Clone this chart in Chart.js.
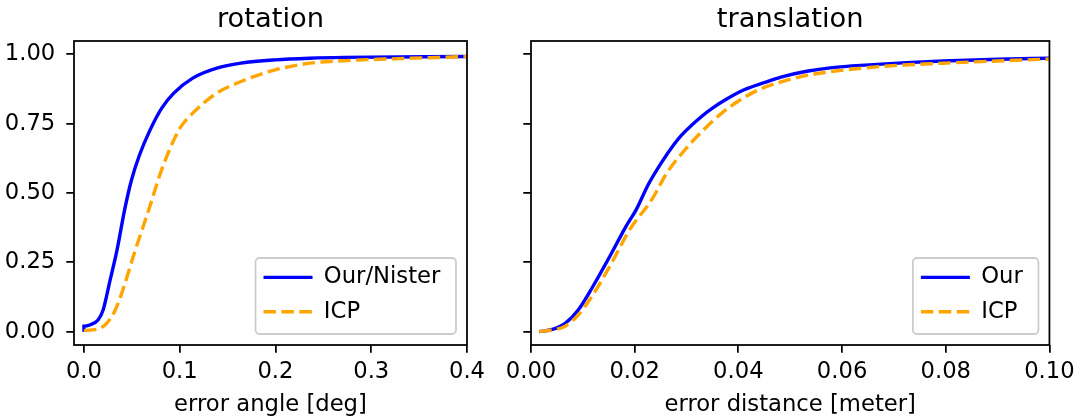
<!DOCTYPE html>
<html><head><meta charset="utf-8">
<script src="https://cdn.jsdelivr.net/npm/chart.js@4.4.1/dist/chart.umd.min.js"></script>
<style>
html,body{margin:0;padding:0;background:#fff;width:1080px;height:419px;overflow:hidden}
canvas{position:absolute;top:0}
#c1{left:0}
#c2{left:500px}
</style></head><body>
<canvas id="c1" width="500" height="419"></canvas>
<canvas id="c2" width="580" height="419"></canvas>
<script>
// ---- data ----
const rotOurX = [0, 0, 0.006, 0.0147, 0.02, 0.0273, 0.0345, 0.0425, 0.0495, 0.0579, 0.0686, 0.0812, 0.0938, 0.1136, 0.1387, 0.1639, 0.1998, 0.2358, 0.2717, 0.4];
const rotOurY = [0, 0.02, 0.024, 0.042, 0.078, 0.186, 0.294, 0.44, 0.545, 0.636, 0.724, 0.806, 0.86, 0.914, 0.95, 0.968, 0.98, 0.986, 0.989, 0.992];
const rotIcpX = [0, 0.0165, 0.0237, 0.0327, 0.0417, 0.0525, 0.0677, 0.0812, 0.0992, 0.1136, 0.1387, 0.1639, 0.1998, 0.2358, 0.2717, 0.3076, 0.4];
const rotIcpY = [0.004, 0.012, 0.03, 0.078, 0.162, 0.282, 0.44, 0.584, 0.728, 0.788, 0.86, 0.902, 0.944, 0.968, 0.977, 0.982, 0.992];
const trOurX = [0.0016, 0.0041, 0.0066, 0.0091, 0.0119, 0.0155, 0.0183, 0.0203, 0.0226, 0.0251, 0.0276, 0.029, 0.0329, 0.035, 0.0375, 0.0411, 0.0453, 0.0482, 0.0532, 0.0581, 0.0652, 0.0724, 0.0795, 0.0901, 0.1];
const trOurY = [0, 0.008, 0.03, 0.078, 0.162, 0.282, 0.379, 0.44, 0.53, 0.608, 0.676, 0.708, 0.776, 0.806, 0.836, 0.872, 0.9, 0.918, 0.939, 0.952, 0.962, 0.97, 0.976, 0.982, 0.986];
const trIcpX = [0.0016, 0.0066, 0.0091, 0.0119, 0.0155, 0.019, 0.0233, 0.0262, 0.0297, 0.0333, 0.0368, 0.0404, 0.0439, 0.0496, 0.0546, 0.0617, 0.0688, 0.0795, 0.0901, 0.1];
const trIcpY = [0, 0.02, 0.06, 0.132, 0.246, 0.367, 0.476, 0.572, 0.656, 0.728, 0.788, 0.836, 0.872, 0.908, 0.929, 0.946, 0.958, 0.968, 0.976, 0.983];

const yTickValues = [0, 0.25, 0.5, 0.75, 1.0];
const yTickLabels = ['0.00', '0.25', '0.50', '0.75', '1.00'];
const rotXTickValues = [0, 0.1, 0.2, 0.3, 0.4];
const rotXTickLabels = ['0.0', '0.1', '0.2', '0.3', '0.4'];
const trXTickValues = [0, 0.02, 0.04, 0.06, 0.08, 0.1];
const trXTickLabels = ['0.00', '0.02', '0.04', '0.06', '0.08', '0.10'];

const titles = ['rotation', 'translation'];
const xTitles = ['error angle [deg]', 'error distance [meter]'];
const rotLabels = ['Our/Nister', 'ICP'];
const trLabels = ['Our', 'ICP'];

// ---- styling ----
const FONT = "'DejaVu Sans'";
const FS = 22.7;
const TFS = 27.3;
const LW = 1.76;
const TL = 7.7;
const LP = 11.6;   // legend padding
const BOXW = 49;
Chart.defaults.font.family = FONT;
Chart.defaults.color = '#000';

const zip = (xs, ys) => xs.map((x, i) => ({x, y: ys[i]}));

const framePlugin = {
  id: 'mplFrame',
  afterLayout(chart) {
    const lg = chart.legend, ca = chart.chartArea;
    if (!lg) return;
    const ctx = chart.ctx;
    ctx.save();
    ctx.font = FS + 'px ' + FONT;
    const tw = Math.max(...chart.data.datasets.map(d => ctx.measureText(d.label).width));
    ctx.restore();
    const fw = 74 + tw + 10, fh = 76;
    const fR = ca.right - 11, fB = ca.bottom - 11;
    const fL = fR - fw, fT = fB - fh;
    chart.$lframe = {x: fL, y: fT, w: fw, h: fh};
    lg.left = fL + 8 - LP;
    lg.top = fT + 19.4 - FS / 2 - LP;
    lg.right = fR;
    lg.bottom = lg.top + 250;
    lg.width = lg.right - lg.left;
    lg.height = lg.bottom - lg.top;
  },
  beforeDraw(chart) {
    const f = chart.$lframe;
    if (!f) return;
    const ctx = chart.ctx;
    ctx.save();
    ctx.beginPath();
    ctx.roundRect(f.x, f.y, f.w, f.h, 4);
    ctx.fillStyle = 'rgba(255,255,255,0.8)';
    ctx.fill();
    ctx.lineWidth = LW;
    ctx.strokeStyle = '#cccccc';
    ctx.stroke();
    ctx.restore();
  },
  afterDraw(chart) {
    const ca = chart.chartArea, ctx = chart.ctx;
    ctx.save();
    ctx.lineWidth = LW;
    ctx.strokeStyle = '#000';
    ctx.strokeRect(ca.left, ca.top, ca.right - ca.left, ca.bottom - ca.top);
    ctx.restore();
  }
};

function legendLabels(chart) {
  const items = Chart.defaults.plugins.legend.labels.generateLabels(chart);
  return items.map(it => {
    const ds = chart.data.datasets[it.datasetIndex];
    it.lineDash = ds.borderDash || [];
    it.lineWidth = ds.borderWidth;
    it.strokeStyle = ds.borderColor;
    it.fillStyle = ds.borderColor;
    it.lineCap = 'butt';
    return it;
  });
}

function makeChart(id, opts) {
  const grid = {display: true, drawOnChartArea: false, drawTicks: true, tickLength: TL, color: '#000', lineWidth: LW};
  return new Chart(document.getElementById(id), {
    type: 'scatter',
    data: {
      datasets: [
        {label: opts.labels[0], data: opts.ourData, showLine: true, borderColor: '#0000ff', backgroundColor: '#0000ff',
         borderWidth: 3.4, pointRadius: 0, cubicInterpolationMode: 'monotone', order: 1},
        {label: opts.labels[1], data: opts.icpData, showLine: true, borderColor: '#ffa500', backgroundColor: '#ffa500',
         borderWidth: 3.4, borderDash: [12.5, 5.4], pointRadius: 0, cubicInterpolationMode: 'monotone', order: 0}
      ]
    },
    options: {
      responsive: false,
      animation: false,
      devicePixelRatio: 1,
      layout: {padding: {left: 0, right: opts.padRight, top: 0, bottom: 0}},
      plugins: {
        tooltip: {enabled: false},
        title: {display: true, text: opts.title, fullSize: false, color: '#000',
                font: {family: FONT, size: TFS, weight: 'normal', lineHeight: 1.2}, padding: {top: 3.5, bottom: 41 - 3.5 - TFS * 1.2}},
        legend: {
          display: true, position: 'chartArea', align: 'start',
          labels: {
            usePointStyle: true, pointStyle: 'line', pointStyleWidth: BOXW, boxHeight: FS,
            padding: LP, color: '#000', font: {family: FONT, size: FS},
            generateLabels: legendLabels,
            sort: (a, b) => a.datasetIndex - b.datasetIndex
          }
        }
      },
      scales: {
        x: {
          type: 'linear', min: opts.xmin, max: opts.xmax,
          grid: grid, border: {display: false},
          afterBuildTicks: s => { s.ticks = opts.xTickValues.map(v => ({value: v})); },
          afterFit: s => { s.height = 74; },
          ticks: {padding: 5.3, maxRotation: 0, autoSkip: false, font: {family: FONT, size: FS}, color: '#000',
                  callback: (v, i) => opts.xTickLabels[i]},
          title: {display: true, text: opts.xTitle, color: '#000', font: {family: FONT, size: FS}, padding: {top: 0, bottom: 0}}
        },
        y: {
          type: 'linear', min: -0.048, max: 1.048,
          grid: grid, border: {display: false},
          afterBuildTicks: s => { s.ticks = yTickValues.map(v => ({value: v})); },
          afterFit: s => { s.width = opts.yWidth; },
          ticks: {display: opts.showYLabels, padding: 11, autoSkip: false, font: {family: FONT, size: FS}, color: '#000',
                  callback: (v, i) => yTickLabels[i]}
        }
      }
    },
    plugins: [framePlugin]
  });
}

makeChart('c1', {
  title: titles[0], xTitle: xTitles[0], labels: rotLabels,
  ourData: zip(rotOurX, rotOurY), icpData: zip(rotIcpX, rotIcpY),
  xmin: -0.0104, xmax: 0.4, xTickValues: rotXTickValues, xTickLabels: rotXTickLabels,
  yWidth: 74, padRight: 33, showYLabels: true
});
makeChart('c2', {
  title: titles[1], xTitle: xTitles[1], labels: trLabels,
  ourData: zip(trOurX, trOurY), icpData: zip(trIcpX, trIcpY),
  xmin: 0, xmax: 0.1, xTickValues: trXTickValues, xTickLabels: trXTickLabels,
  yWidth: 31, padRight: 30, showYLabels: false
});
</script>
</body></html>
